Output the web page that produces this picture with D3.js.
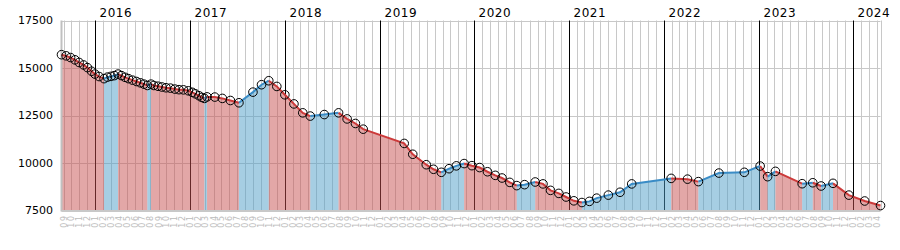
<!DOCTYPE html>
<html>
<head>
<meta charset="utf-8">
<script src="https://cdn.jsdelivr.net/npm/d3@7"></script>
<style>
  body { margin: 0; background: #fff; }
  text { font-family: "DejaVu Sans", Verdana, sans-serif; }
</style>
</head>
<body>
<div id="chart"></div>
<script>
var dates = [
  "2015-08-24","2015-09-11","2015-09-28","2015-10-15","2015-10-31","2015-11-17","2015-12-02","2015-12-18","2015-12-31","2016-01-16",
  "2016-02-04","2016-02-17","2016-03-02","2016-03-15","2016-03-29","2016-04-11","2016-04-25","2016-05-08","2016-05-24","2016-06-08",
  "2016-06-23","2016-07-07","2016-07-20","2016-08-03","2016-08-14","2016-08-30","2016-09-14","2016-09-30","2016-10-17","2016-11-03",
  "2016-11-19","2016-12-06","2016-12-25","2017-01-09","2017-01-21","2017-02-04","2017-02-15","2017-02-25","2017-03-07","2017-04-06",
  "2017-05-05","2017-06-05","2017-07-08","2017-08-31","2017-10-03","2017-10-31","2017-12-01","2018-01-01","2018-02-05","2018-03-11",
  "2018-04-09","2018-06-02","2018-07-27","2018-08-29","2018-09-30","2018-10-30","2019-04-06","2019-05-09","2019-06-30","2019-07-28",
  "2019-08-27","2019-09-26","2019-10-24","2019-11-23","2019-12-23","2020-01-22","2020-02-21","2020-03-22","2020-04-17","2020-05-17",
  "2020-06-13","2020-07-13","2020-08-23","2020-09-22","2020-10-21","2020-11-22","2020-12-20","2021-01-19","2021-02-19","2021-03-20",
  "2021-04-17","2021-06-01","2021-07-16","2021-08-30","2022-01-29","2022-04-02","2022-05-14","2022-08-01","2022-11-07","2023-01-07",
  "2023-02-05","2023-03-07","2023-06-18","2023-07-29","2023-08-30","2023-10-15","2023-12-15","2024-02-14","2024-04-15"
]
var values = [
  15700,15640,15550,15430,15290,15160,15020,14830,14680,14550,
  14440,14520,14560,14600,14680,14600,14510,14440,14360,14290,
  14220,14150,14080,14150,14080,14040,14000,13960,13940,13890,
  13860,13850,13800,13720,13640,13540,13450,13400,13480,13470,
  13400,13290,13170,13730,14120,14330,14030,13590,13110,12640,
  12470,12550,12640,12320,12080,11780,11030,10460,9910,9670,
  9510,9700,9850,9970,9860,9760,9540,9350,9210,8980,
  8810,8860,9000,8900,8560,8400,8210,8010,7920,7980,
  8150,8310,8460,8900,9190,9150,9020,9470,9510,9840,
  9280,9560,8910,8960,8790,8930,8310,8000,7760
]
var yTicks = [7500, 10000, 12500, 15000, 17500]

var width = 900, height = 250
var margin = {top: 20.5, right: 19.5, bottom: 39.5, left: 61.5}

var svg = d3.select("#chart").append("svg")
    .attr("width", width)
    .attr("height", height)

var parse = d3.timeParse("%Y-%m-%d")
var data = dates.map(function(d, i){ return {date: parse(d), value: values[i]} })

var x = d3.scaleTime()
    .domain(d3.extent(data, function(d){ return d.date }))
    .range([margin.left, width - margin.right])
var y = d3.scaleLinear()
    .domain([yTicks[0], yTicks[yTicks.length - 1]])
    .range([height - margin.bottom, margin.top])

var plotTop = y.range()[1], plotBottom = y.range()[0]
var px = function(v){ return Math.round(v) + 0.5 }

// grid
var grid = svg.append("g")
var months = d3.timeMonth.range(d3.timeMonth.ceil(x.domain()[0]), x.domain()[1])

grid.selectAll("line.h").data(yTicks.slice(1))
  .enter().append("line")
    .attr("x1", margin.left).attr("x2", width - margin.right)
    .attr("y1", function(d){ return px(y(d)) }).attr("y2", function(d){ return px(y(d)) })
    .attr("stroke", "#c8c8c8")

grid.selectAll("line.m").data(months)
  .enter().append("line")
    .attr("x1", function(d){ return px(x(d)) }).attr("x2", function(d){ return px(x(d)) })
    .attr("y1", plotTop).attr("y2", plotBottom)
    .attr("stroke", function(d){ return d.getMonth() === 0 ? "#000" : "#c8c8c8" })

grid.append("line")
    .attr("x1", px(width - margin.right)).attr("x2", px(width - margin.right))
    .attr("y1", plotTop).attr("y2", plotBottom)
    .attr("stroke", "#c8c8c8")

// runs of rising / falling segments
var runs = []
for (var i = 0; i < data.length - 1; i++) {
  var up = data[i + 1].value > data[i].value
  var last = runs[runs.length - 1]
  if (last && last.up === up) last.pts.push(data[i + 1])
  else runs.push({up: up, pts: [data[i], data[i + 1]]})
}

var area = d3.area()
    .x(function(d){ return x(d.date) })
    .y0(plotBottom)
    .y1(function(d){ return y(d.value) })
var line = d3.line()
    .x(function(d){ return x(d.date) })
    .y(function(d){ return y(d.value) })

svg.append("g").selectAll("path").data(runs)
  .enter().append("path")
    .attr("d", function(d){ return area(d.pts) })
    .attr("fill", function(d){ return d.up ? "#4d9dc7" : "#c74f4f" })
    .attr("fill-opacity", 0.5)

// axis frame
svg.append("line")
    .attr("x1", margin.left).attr("x2", margin.left)
    .attr("y1", plotTop).attr("y2", plotBottom + 1)
    .attr("stroke", "#c0c0c0").attr("stroke-width", 2)
svg.append("line")
    .attr("x1", margin.left).attr("x2", width - margin.right)
    .attr("y1", plotBottom + 0.5).attr("y2", plotBottom + 0.5)
    .attr("stroke", "#c8c8c8").attr("stroke-width", 2)

svg.append("g").selectAll("path").data(runs)
  .enter().append("path")
    .attr("d", function(d){ return line(d.pts) })
    .attr("fill", "none")
    .attr("stroke", function(d){ return d.up ? "#3a8cc6" : "#cc3a3a" })
    .attr("stroke-width", 2)

svg.append("g").selectAll("circle").data(data)
  .enter().append("circle")
    .attr("cx", function(d){ return x(d.date) })
    .attr("cy", function(d){ return y(d.value) })
    .attr("r", 4.3)
    .attr("fill", "none")
    .attr("stroke", "#000")
    .attr("stroke-width", 1)

// labels
svg.append("g").selectAll("text").data(yTicks)
  .enter().append("text")
    .attr("x", 53)
    .attr("y", function(d){ return y(d) })
    .attr("dy", "0.35em")
    .attr("text-anchor", "end")
    .style("font-size", "11px")
    .text(function(d){ return d })

svg.append("g").selectAll("text").data(months.filter(function(d){ return d.getMonth() === 0 }))
  .enter().append("text")
    .attr("x", function(d){ return px(x(d)) + 4 })
    .attr("y", 17)
    .style("font-size", "12px")
    .style("letter-spacing", "0.5px")
    .text(d3.timeFormat("%Y"))

svg.append("g").selectAll("text").data(months)
  .enter().append("text")
    .attr("transform", function(d){ return "translate(" + (px(x(d)) + 2) + "," + (plotBottom + 4) + ") rotate(-90)" })
    .attr("text-anchor", "end")
    .style("font-size", "8px")
    .style("letter-spacing", "1.5px")
    .attr("fill", "#bbb")
    .text(d3.timeFormat("%m"))
</script>
</body>
</html>
